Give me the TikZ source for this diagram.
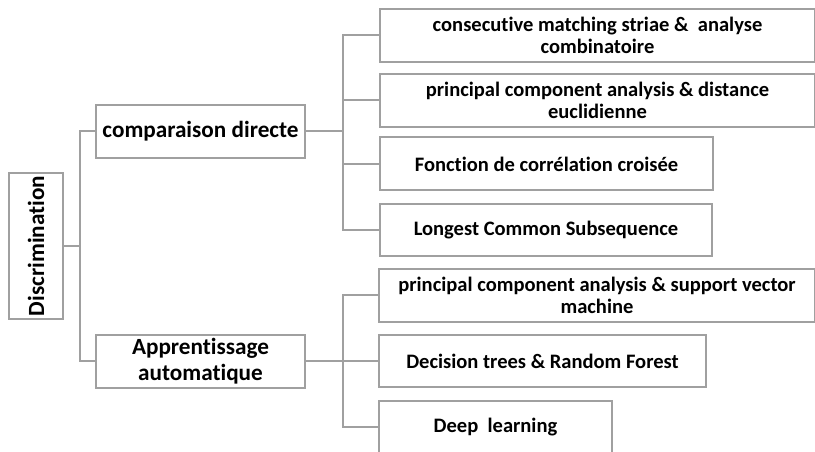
\documentclass[tikz,border=0pt]{standalone}
\usepackage{fontspec}
\setmainfont{Carlito}[Ligatures=NoCommon]
\begin{document}
\begin{tikzpicture}[x=0.75pt,y=-0.75pt,
  every node/.style={font=\bfseries},
  box/.style={draw=linegray,line width=1.5pt,fill=white,rectangle,inner sep=0pt,align=center,anchor=center},
  topbox/.style={box,font=\fontsize{17.4}{19.4}\selectfont\bfseries},
  leafbox/.style={box,font=\fontsize{15.4}{16.5}\selectfont\bfseries,minimum height=53*0.75pt},
  link/.style={draw=linegray,line width=1.5pt}]
\definecolor{linegray}{RGB}{160,160,160}
\clip (0,0) rectangle (815,452);

% root, set vertically
\node[topbox,minimum width=146*0.75pt,minimum height=54*0.75pt,rotate=90] (disc) at (36,246) {Discrimination};

% first level
\node[topbox,minimum width=209*0.75pt,minimum height=53*0.75pt] (comp) at (200.5,131.5) {comparaison directe};
\node[topbox,minimum width=209*0.75pt,minimum height=53*0.75pt] (app) at (200.5,361.5) {Apprentissage\\automatique};

% methods of direct comparison
\node[leafbox,minimum width=435*0.75pt] (c1) at (597.5,35.5) {consecutive matching striae \&\ \ analyse\\combinatoire};
\node[leafbox,minimum width=435*0.75pt] (c2) at (597.5,100.5) {principal component analysis \& distance\\euclidienne};
\node[leafbox,minimum width=333*0.75pt] (c3) at (546.5,164) {Fonction de corrélation croisée};
\node[leafbox,minimum width=332*0.75pt,minimum height=52*0.75pt] (c4) at (546,230) {Longest Common Subsequence};

% machine learning methods
\node[leafbox,minimum width=436*0.75pt] (a1) at (597,295.5) {principal component analysis \& support vector\\machine};
\node[leafbox,minimum width=327*0.75pt,minimum height=52*0.75pt] (a2) at (542.5,361) {Decision trees \& Random Forest};
\node[leafbox,minimum width=233*0.75pt] (a3) at (495.5,427.5) {Deep\ \ learning};

% connectors
\draw[link] (disc.south) -- ++(16,0) |- (comp.west);
\draw[link] (disc.south) -- ++(16,0) |- (app.west);
\foreach \n in {c1,c2,c3,c4}
  \draw[link] (comp.east) -- ++(37,0) |- (\n.west);
\foreach \n in {a1,a2,a3}
  \draw[link] (app.east) -- ++(37,0) |- (\n.west);
\end{tikzpicture}
\end{document}
